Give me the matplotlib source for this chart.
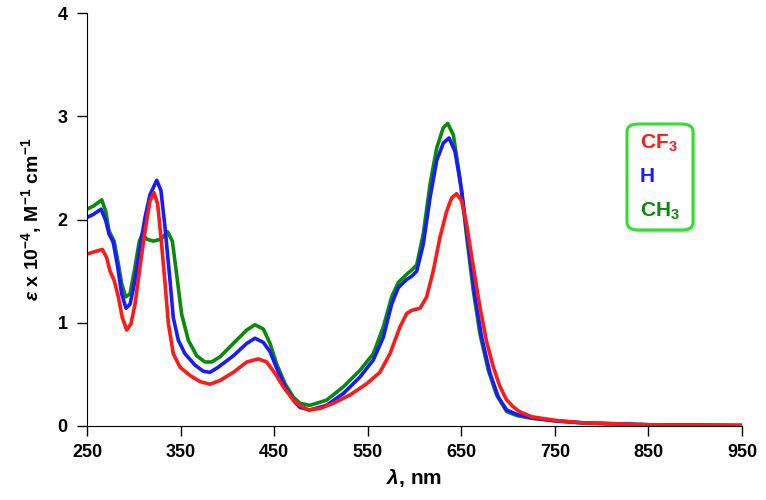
import matplotlib
matplotlib.use("Agg")
import matplotlib.pyplot as plt
from matplotlib.patches import FancyBboxPatch

plt.rcParams['font.family'] = ['Liberation Sans', 'DejaVu Sans']
plt.rcParams['font.weight'] = 'bold'
plt.rcParams['mathtext.fontset'] = 'custom'
plt.rcParams['mathtext.rm'] = 'Liberation Sans:bold'
plt.rcParams['mathtext.bf'] = 'Liberation Sans:bold'
plt.rcParams['mathtext.it'] = 'Liberation Sans:italic:bold'
plt.rcParams['mathtext.default'] = 'bf'

# wavelength (nm) and epsilon x 1e-4
wl_cf3 = [250, 258.5, 266.4, 271, 274.6, 279, 283.5, 287.7, 292.4, 297, 301.3, 306.6,
          312, 317.3, 321.6, 325.5, 329, 333.4, 337, 342.2, 349.4, 360, 370.8, 381.5,
          392, 406.4, 420.7, 433, 442, 451, 459.8, 470.5, 477.6, 486.5, 499, 513.2,
          531, 549, 563, 573.8, 584.5, 591.7, 597, 605.9, 613, 620, 627.3, 634.4,
          639.8, 645, 650.4, 655.8, 662.9, 670, 677, 684, 691, 698, 705, 712, 725,
          750, 780, 850, 950]
eps_cf3 = [1.665, 1.69, 1.71, 1.63, 1.50, 1.41, 1.25, 1.05, 0.93, 0.99, 1.18, 1.54,
           1.89, 2.18, 2.26, 2.15, 1.83, 1.38, 0.99, 0.70, 0.57, 0.49, 0.43, 0.405,
           0.44, 0.52, 0.62, 0.65, 0.62, 0.51, 0.38, 0.25, 0.20, 0.155, 0.17, 0.22,
           0.30, 0.41, 0.52, 0.70, 0.96, 1.09, 1.12, 1.14, 1.25, 1.50, 1.83, 2.08,
           2.21, 2.25, 2.18, 1.95, 1.54, 1.15, 0.82, 0.58, 0.39, 0.26, 0.19, 0.14, 0.09,
           0.055, 0.03, 0.012, 0.005]

wl_h = [250, 256.8, 265, 270, 273.5, 278, 282.8, 287, 291.7, 296, 301.3, 306.6, 312,
        317.3, 324.5, 329, 333.4, 338.7, 342.2, 347.6, 354.7, 365.4, 374.3, 381.5,
        390.3, 406.4, 420.7, 429.5, 438.4, 445.6, 452.7, 461.6, 472.3, 477.6, 488,
        506, 524, 541.8, 556, 566.7, 575.6, 582.7, 591.7, 597, 602.4, 609.4, 616.6,
        623.7, 630.8, 636.9, 643.3, 650.4, 657.5, 664.7, 671.8, 680.7, 689.6, 698.5,
        710, 725, 750, 780, 850, 950]
eps_h = [2.02, 2.05, 2.10, 1.99, 1.86, 1.78, 1.54, 1.28, 1.14, 1.18, 1.41, 1.73, 2.02,
         2.24, 2.38, 2.28, 1.92, 1.41, 1.05, 0.83, 0.70, 0.59, 0.53, 0.52,
         0.57, 0.68, 0.80, 0.85, 0.81, 0.72, 0.56, 0.38, 0.23, 0.18, 0.155,
         0.20, 0.315, 0.475, 0.64, 0.86, 1.18, 1.34, 1.42, 1.45, 1.50, 1.76, 2.21,
         2.57, 2.74, 2.79, 2.66, 2.28, 1.76, 1.25, 0.86, 0.51, 0.28, 0.155,
         0.11, 0.08, 0.05, 0.03, 0.012, 0.005]

wl_ch3 = [250, 256.8, 265.7, 270, 273.5, 279, 283.5, 287, 291.3, 296, 301.3, 305.9,
          309.1, 313.8, 320.9, 329, 336.2, 341.2, 345.9, 351.2, 358.3, 367.2, 376.1,
          383.2, 392.1, 406.4, 420.7, 429.5, 438.4, 445.6, 452.7, 461.6, 470.5, 477.6,
          488, 506, 524, 541.8, 556, 566.7, 575.6, 582.7, 591.7, 597, 602.4, 609.4,
          616.6, 623.7, 630.8, 635.5, 641.5, 648.6, 655.8, 662.9, 670, 678.9, 687.8,
          698.5, 710, 725, 750, 780, 850, 950]
eps_ch3 = [2.10, 2.13, 2.19, 2.08, 1.89, 1.79, 1.57, 1.38, 1.25, 1.28, 1.54, 1.79,
           1.86, 1.81, 1.79, 1.81, 1.88, 1.79, 1.46, 1.08, 0.83, 0.68, 0.62,
           0.62, 0.67, 0.80, 0.93, 0.98, 0.94, 0.80, 0.60, 0.41, 0.28, 0.22,
           0.20, 0.25, 0.38, 0.54, 0.70, 0.96, 1.25, 1.39, 1.47, 1.51, 1.56, 1.86,
           2.34, 2.69, 2.89, 2.93, 2.82, 2.40, 1.83, 1.31, 0.89, 0.54, 0.30,
           0.14, 0.10, 0.075, 0.05, 0.03, 0.012, 0.005]

labels = [r'CF$_3$', 'H', r'CH$_3$']
colors = ['#ff1a1a', '#1a1aff', '#0a8a0a']

fig = plt.figure(figsize=(7.66, 5.0), dpi=100)
ax = fig.add_axes([0.1136, 0.148, 0.855, 0.826])

ax.plot(wl_ch3, eps_ch3, color=colors[2], lw=2.6, solid_joinstyle='round')
ax.plot(wl_h, eps_h, color=colors[1], lw=2.6, solid_joinstyle='round')
ax.plot(wl_cf3, eps_cf3, color=colors[0], lw=2.6, solid_joinstyle='round')

ax.set_xlim(250, 950)
ax.set_ylim(0, 4)
ax.set_xticks(range(250, 951, 100))
ax.set_yticks([0, 1, 2, 3, 4])
ax.spines['top'].set_visible(False)
ax.spines['right'].set_visible(False)
ax.tick_params(direction='out', length=7, width=1, labelsize=13, pad=6)
ax.tick_params(axis='y', pad=7)
for lab in ax.get_xticklabels() + ax.get_yticklabels():
    lab.set_fontweight('bold')

ax.set_xlabel(r'$\mathit{\lambda}$, nm', fontsize=15, fontweight='bold', labelpad=4)
ax.set_ylabel(r'$\mathit{\varepsilon}$ x 10$^{-4}$, M$^{-1}$ cm$^{-1}$', fontsize=14,
              fontweight='bold', labelpad=10)

# legend box with shadow
x0, y0, w, h = 627 / 766, 1 - 230 / 500, 66 / 766, 106 / 500
shadow = FancyBboxPatch((x0 + 0.004, y0 - 0.006), w, h, boxstyle='round,pad=0,rounding_size=0.015',
                        transform=fig.transFigure, facecolor='#c8c8c8', edgecolor='none', alpha=0.6)
box = FancyBboxPatch((x0, y0), w, h, boxstyle='round,pad=0,rounding_size=0.015',
                     transform=fig.transFigure, facecolor='white', edgecolor='#33dd33', lw=2.2)
fig.patches.extend([shadow, box])
for i, (lab, c) in enumerate(zip(labels, colors)):
    fig.text(640 / 766, 1 - (143 + i * 34) / 500, lab, color=c, fontsize=15,
             fontweight='bold', va='center', ha='left')

fig.savefig('out.png', dpi=100)
